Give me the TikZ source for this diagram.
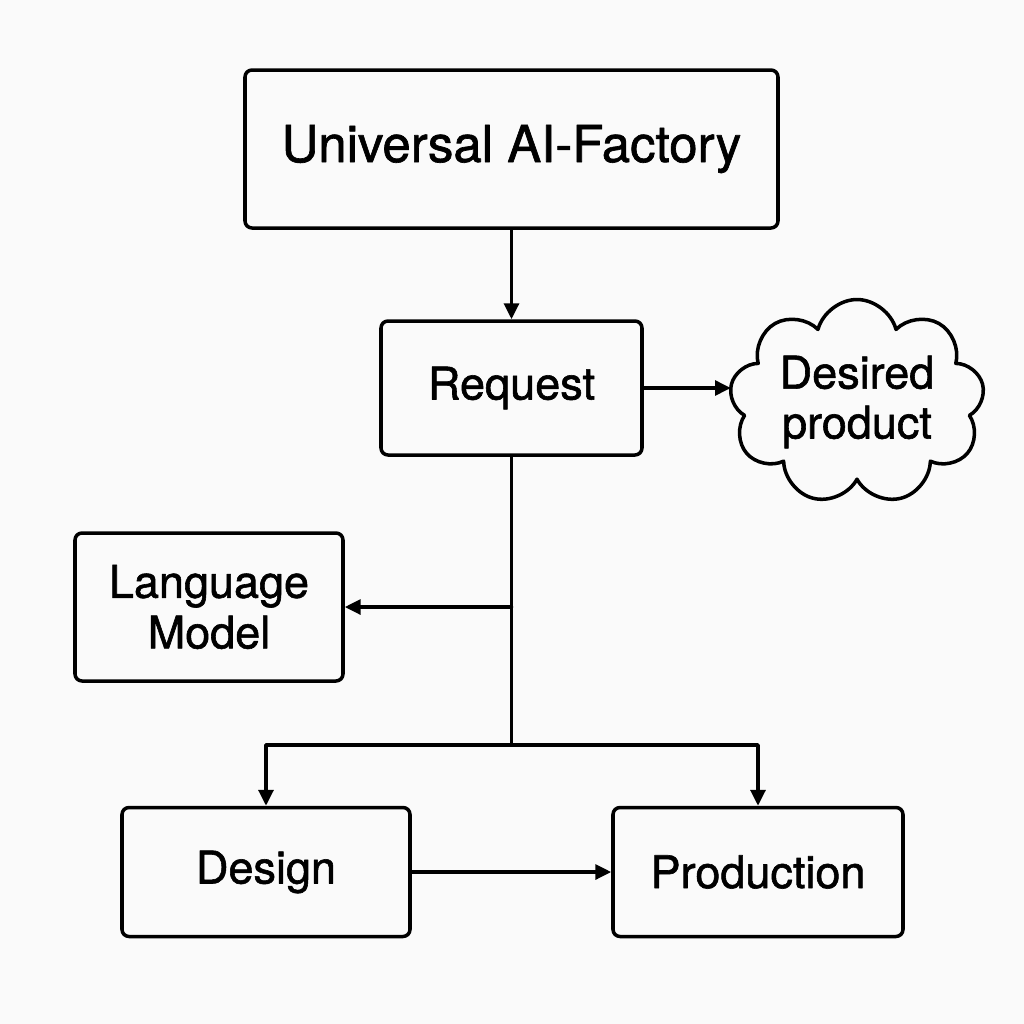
\documentclass[tikz,border=0pt]{standalone}
\usepackage{fontspec}
\setmainfont[FakeBold=1.3,AutoFakeBold=1.3]{TeX Gyre Heros}
\usetikzlibrary{arrows.meta,calc,positioning,shapes.symbols}
\definecolor{paper}{RGB}{250,250,250}
\tikzset{
  box/.style={draw, line width=1pt, rounded corners=2pt, align=center, font=\fontsize{12.8}{14.4}\selectfont\bfseries},
  cloudy/.style={cloud, cloud puffs=9, cloud ignores aspect, draw, line width=1pt, align=center, inner sep=0pt, font=\fontsize{12.8}{14.2}\selectfont\bfseries},
  arr/.style={line width=1pt, -{Triangle[length=4.5pt,width=4.2pt]}},
  every picture/.style={line cap=round, line join=round}
}

\begin{document}
\begin{tikzpicture}
  \fill[paper] (0,0) rectangle (10.24,-10.24);
  \useasboundingbox (0,0) rectangle (10.24,-10.24);

  \node[box, minimum width=5.33cm, minimum height=1.58cm, font=\fontsize{14.5}{16}\selectfont\bfseries] (factory) at (5.115,-1.49) {Universal AI-Factory};
  \node[box, minimum width=2.61cm, minimum height=1.34cm] (request) at (5.115,-3.88) {Request};
  \node[cloudy, minimum width=2.55cm, minimum height=2.05cm] (product) at (8.57,-4.02) {Desired\\product};
  \node[box, minimum width=2.68cm, minimum height=1.48cm] (lm) at (2.09,-6.07) {Language\\Model};
  \node[box, minimum width=2.88cm, minimum height=1.29cm] (design) at (2.66,-8.72) {Design};
  \node[box, minimum width=2.90cm, minimum height=1.29cm] (production) at (7.58,-8.72) {Production};

  \coordinate (lmj) at (5.115,-6.07);
  \coordinate (split) at (5.115,-7.45);

  \draw[arr] (factory) -- (request);
  \draw[arr] (request.east) -- (request.east -| product.west);
  \draw[line width=1pt] (request.south) -- (split);
  \draw[arr] (lmj) -- (lm.east);
  \draw[arr] (split) -| (design.north);
  \draw[arr] (split) -| (production.north);
  \draw[arr] (design) -- (production);
\end{tikzpicture}
\end{document}
